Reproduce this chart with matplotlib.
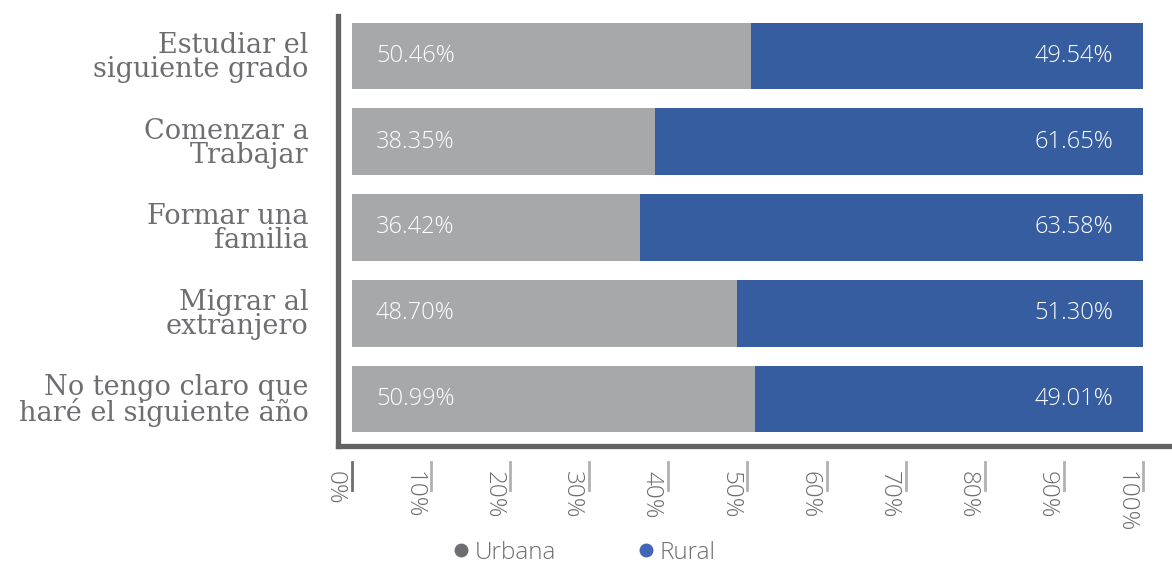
import matplotlib.pyplot as plt
from matplotlib.lines import Line2D

plt.rcParams['font.family'] = ['Open Sans', 'DejaVu Sans']

categories = ['Estudiar el\nsiguiente grado', 'Comenzar a\nTrabajar', 'Formar una\nfamilia',
              'Migrar al\nextranjero', 'No tengo claro que\nharé el siguiente año']
urbana = [50.46, 38.35, 36.42, 48.70, 50.99]
rural = [49.54, 61.65, 63.58, 51.30, 49.01]
xticks = [0, 10, 20, 30, 40, 50, 60, 70, 80, 90, 100]
series_names = ['Urbana', 'Rural']

gray = '#a7a8aa'
blue = '#365da0'
text_gray = '#6d6e71'
frame = '#626362'
light = 300

fig = plt.figure(figsize=(11.72, 5.63), dpi=100)
ax = fig.add_axes([0.2884, 0.2078, 0.7116, 0.7638])

y = list(range(len(categories)))
ax.barh(y, urbana, height=0.78, color=gray)
ax.barh(y, rural, left=urbana, height=0.78, color=blue)

for i in y:
    ax.annotate(f'{urbana[i]:.2f}%', xy=(0, i), xytext=(24, 0), textcoords='offset pixels',
                ha='left', va='center', color='white', fontsize=17, fontweight=light)
    ax.annotate(f'{rural[i]:.2f}%', xy=(100, i), xytext=(-30, 0), textcoords='offset pixels',
                ha='right', va='center', color='white', fontsize=17, fontweight=light)

ax.set_xlim(-1.77, 103.67)
ax.set_ylim(4.548, -0.466)

ax.set_yticks(y)
ax.set_yticklabels(categories, fontsize=19.5, color=text_gray, linespacing=0.85, ha='right',
                   family='DejaVu Serif')
ax.tick_params(axis='y', length=0, pad=21)
ax.set_xticks([])

for side in ['top', 'right']:
    ax.spines[side].set_visible(False)
for side in ['left', 'bottom']:
    ax.spines[side].set_linewidth(3.8)
    ax.spines[side].set_color(frame)

# detached tick marks with rotated labels beneath the frame
for v in xticks:
    ax.plot([v, v], [-0.037, -0.102], transform=ax.get_xaxis_transform(), clip_on=False,
            color=text_gray if v == 0 else '#b0b1b3', lw=2)
    ax.annotate(f'{v}%', xy=(v, -0.037), xycoords=('data', 'axes fraction'),
                xytext=(-17, -9), textcoords='offset pixels', rotation=-90,
                ha='center', va='top', color=text_gray, fontsize=17.5, fontweight=light)

handles = [Line2D([], [], marker='o', ls='', color=text_gray, markersize=9),
           Line2D([], [], marker='o', ls='', color='#4066b5', markersize=9)]
leg = fig.legend(handles, series_names, loc='center', bbox_to_anchor=(0.499, 0.018), ncol=2,
                 frameon=False, fontsize=17.5, handlelength=0.6, handletextpad=0.25,
                 columnspacing=3.4, borderpad=0)
for t in leg.get_texts():
    t.set_color(text_gray)
    t.set_fontweight(light)

fig.savefig('out.png', dpi=100)
